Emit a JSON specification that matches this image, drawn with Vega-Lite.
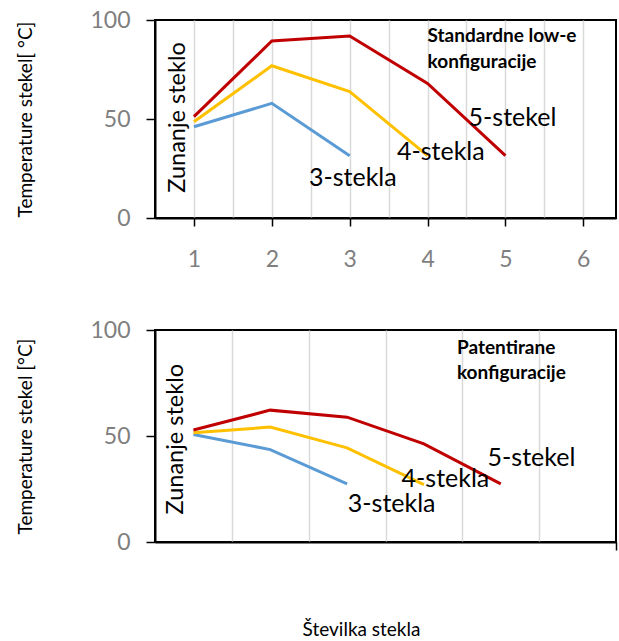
{
  "$schema": "https://vega.github.io/schema/vega-lite/v6.json",
  "padding": {"top": 8, "left": 15, "right": 2, "bottom": 0},
  "spacing": 46,
  "datasets": {
    "top": [
      {"series": "3-stekla", "x": 1, "y": 46.1},
      {"series": "3-stekla", "x": 2, "y": 57.9},
      {"series": "3-stekla", "x": 3, "y": 31.5},
      {"series": "4-stekla", "x": 1, "y": 48.6},
      {"series": "4-stekla", "x": 2, "y": 76.9},
      {"series": "4-stekla", "x": 3, "y": 63.8},
      {"series": "4-stekla", "x": 4, "y": 31.5},
      {"series": "5-stekel", "x": 1, "y": 51.2},
      {"series": "5-stekel", "x": 2, "y": 89.4},
      {"series": "5-stekel", "x": 3, "y": 91.9},
      {"series": "5-stekel", "x": 4, "y": 68.0},
      {"series": "5-stekel", "x": 5, "y": 31.5}
    ],
    "bottom": [
      {"series": "3-stekla", "x": 1, "y": 50.7},
      {"series": "3-stekla", "x": 2, "y": 43.6},
      {"series": "3-stekla", "x": 3, "y": 27.4},
      {"series": "4-stekla", "x": 1, "y": 51.5},
      {"series": "4-stekla", "x": 2, "y": 54.2},
      {"series": "4-stekla", "x": 3, "y": 44.4},
      {"series": "4-stekla", "x": 4, "y": 27.1},
      {"series": "5-stekel", "x": 1, "y": 52.8},
      {"series": "5-stekel", "x": 2, "y": 62.2},
      {"series": "5-stekel", "x": 3, "y": 58.9},
      {"series": "5-stekel", "x": 4, "y": 46.3},
      {"series": "5-stekel", "x": 5, "y": 27.4}
    ],
    "topLabels": [
      {"label": "3-stekla", "x": 3.04, "y": 20},
      {"label": "4-stekla", "x": 4.17, "y": 33.5},
      {"label": "5-stekel", "x": 5.09, "y": 50.4}
    ],
    "topVert": [{"label": "Zunanje steklo", "x": 0.79, "y": 50.8}],
    "topTitle": [
      {"label": "Standardne low-e", "x": 4.0, "y": 91.9},
      {"label": "konfiguracije", "x": 4.0, "y": 78.9}
    ],
    "bottomLabels": [
      {"label": "3-stekla", "x": 3.58, "y": 18.0},
      {"label": "4-stekla", "x": 4.28, "y": 29.6},
      {"label": "5-stekel", "x": 5.40, "y": 39.7}
    ],
    "bottomVert": [{"label": "Zunanje steklo", "x": 0.77, "y": 48.5}],
    "bottomTitle": [
      {"label": "Patentirane", "x": 4.43, "y": 91.6},
      {"label": "konfiguracije", "x": 4.43, "y": 79.8}
    ]
  },
  "vconcat": [
    {
      "width": 461,
      "height": 198,
      "layer": [
        {
          "data": {"name": "top"},
          "mark": {"type": "line", "strokeWidth": 3},
          "encoding": {
            "x": {"field": "x", "type": "quantitative", "scale": {"domain": [0.5, 6.42], "nice": false, "zero": false},
              "axis": {"title": null, "values": [0.5, 1, 1.5, 2, 2.5, 3, 3.5, 4, 4.5, 5, 5.5, 6]}},
            "y": {"field": "y", "type": "quantitative", "scale": {"domain": [0, 100], "nice": false},
              "axis": {"title": "Temperature stekel[ °C]", "values": [0, 50, 100]}},
            "color": {"field": "series", "type": "nominal", "scale": {"domain": ["3-stekla", "4-stekla", "5-stekel"], "range": ["#5b9bd5", "#ffc000", "#c00000"]}, "legend": null}
          }
        },
        {
          "data": {"name": "topLabels"},
          "mark": {"type": "text", "fontSize": 25, "color": "black", "align": "center", "baseline": "middle"},
          "encoding": {"x": {"field": "x", "type": "quantitative"}, "y": {"field": "y", "type": "quantitative"}, "text": {"field": "label"}}
        },
        {
          "data": {"name": "topVert"},
          "mark": {"type": "text", "fontSize": 23.5, "color": "black", "align": "center", "baseline": "middle", "angle": 270},
          "encoding": {"x": {"field": "x", "type": "quantitative"}, "y": {"field": "y", "type": "quantitative"}, "text": {"field": "label"}}
        },
        {
          "data": {"name": "topTitle"},
          "mark": {"type": "text", "fontSize": 19, "fontWeight": "bold", "color": "black", "align": "left", "baseline": "middle"},
          "encoding": {"x": {"field": "x", "type": "quantitative"}, "y": {"field": "y", "type": "quantitative"}, "text": {"field": "label"}}
        },
        {
          "mark": {"type": "rect", "fill": null, "stroke": "black", "strokeWidth": 2},
          "encoding": {
            "x": {"datum": 0.5, "type": "quantitative"}, "x2": {"datum": 6.42},
            "y": {"datum": 0, "type": "quantitative"}, "y2": {"datum": 100}
          }
        }
      ]
    },
    {
      "width": 461,
      "height": 212,
      "layer": [
        {
          "data": {"name": "bottom"},
          "mark": {"type": "line", "strokeWidth": 3},
          "encoding": {
            "x": {"field": "x", "type": "quantitative", "scale": {"domain": [0.5, 6.5], "nice": false, "zero": false},
              "axis": {"title": "Številka stekla", "values": [0.5, 1, 1.5, 2, 2.5, 3, 3.5, 4, 4.5, 5, 5.5, 6, 6.5], "titleFontSize": 19, "titlePadding": 25, "titleX": 206}},
            "y": {"field": "y", "type": "quantitative", "scale": {"domain": [0, 100], "nice": false},
              "axis": {"title": "Temperature stekel [°C]", "values": [0, 50, 100]}},
            "color": {"field": "series", "type": "nominal", "scale": {"domain": ["3-stekla", "4-stekla", "5-stekel"], "range": ["#5b9bd5", "#ffc000", "#c00000"]}, "legend": null}
          }
        },
        {
          "data": {"name": "bottomLabels"},
          "mark": {"type": "text", "fontSize": 25, "color": "black", "align": "center", "baseline": "middle"},
          "encoding": {"x": {"field": "x", "type": "quantitative"}, "y": {"field": "y", "type": "quantitative"}, "text": {"field": "label"}}
        },
        {
          "data": {"name": "bottomVert"},
          "mark": {"type": "text", "fontSize": 23.5, "color": "black", "align": "center", "baseline": "middle", "angle": 270},
          "encoding": {"x": {"field": "x", "type": "quantitative"}, "y": {"field": "y", "type": "quantitative"}, "text": {"field": "label"}}
        },
        {
          "data": {"name": "bottomTitle"},
          "mark": {"type": "text", "fontSize": 19, "fontWeight": "bold", "color": "black", "align": "left", "baseline": "middle"},
          "encoding": {"x": {"field": "x", "type": "quantitative"}, "y": {"field": "y", "type": "quantitative"}, "text": {"field": "label"}}
        },
        {
          "mark": {"type": "rect", "fill": null, "stroke": "black", "strokeWidth": 2},
          "encoding": {
            "x": {"datum": 0.5, "type": "quantitative"}, "x2": {"datum": 6.5},
            "y": {"datum": 0, "type": "quantitative"}, "y2": {"datum": 100}
          }
        }
      ]
    }
  ],
  "config": {
    "font": "Lato",
    "view": {"stroke": "black", "strokeWidth": 2},
    "axis": {
      "domain": true,
      "domainColor": "black",
      "domainWidth": 2,
      "grid": true,
      "gridColor": "#d9d9d9",
      "gridWidth": 1.5,
      "tickColor": "black",
      "tickWidth": 1.5,
      "labelColor": "#7f7f7f",
      "labelFontSize": 23,
      "labelFont": "Lato",
      "titleFont": "Lato",
      "titleFontWeight": "normal",
      "titleColor": "black",
      "titleFontSize": 19
    },
    "axisX": {
      "tickSize": 8,
      "labelPadding": 22,
      "labelExpr": "datum.value % 1 === 0 && datum.value < 6.5 ? format(datum.value, 'd') : ''",
      "tickOpacity": {"condition": {"test": "datum.value % 1 !== 0 && datum.value !== 6.5", "value": 0}, "value": 1},
      "gridOpacity": {"condition": {"test": "datum.value === 0.5 || datum.value === 6.5", "value": 0}, "value": 1}
    },
    "axisY": {
      "tickSize": 9,
      "labelPadding": 16,
      "titlePadding": 54,
      "gridOpacity": {"condition": {"test": "datum.value === 50", "value": 1}, "value": 0}
    }
  }
}
